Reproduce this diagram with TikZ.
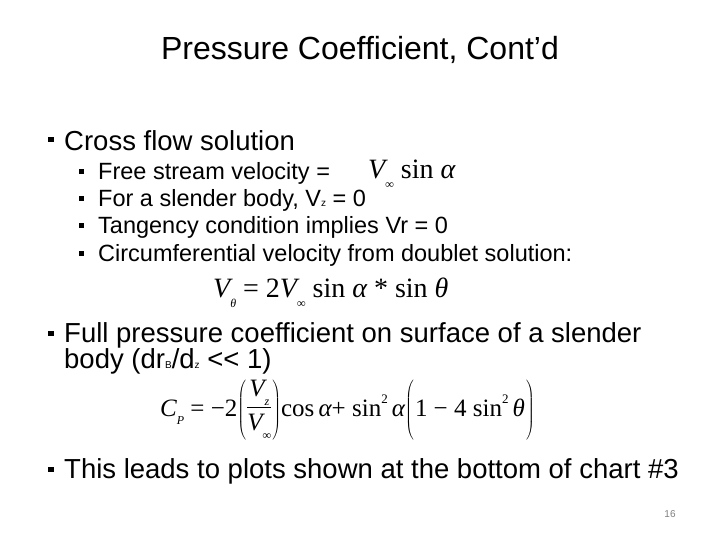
\documentclass[tikz,border=0pt]{standalone}
\usepackage{fontspec}
\setmainfont{Liberation Sans}
\newfontfamily\tms{Liberation Serif}
\newcommand{\bsq}{\rule{0.42em}{0.42em}}
\newcommand{\ti}[1]{{\itshape #1}}
\newcommand{\sbs}[1]{\raisebox{-0.35em}{\fontsize{12}{12}\selectfont\itshape #1}}
\newcommand{\sps}[1]{\raisebox{0.5em}{\fontsize{13}{13}\selectfont #1}}
\newcommand{\frc}{$\displaystyle\frac{\hbox{\ti{V}\sbs{z}}}{\hbox{\ti{V}\sbs{∞}}}$}
\begin{document}
\begin{tikzpicture}[x=1pt,y=-1pt,
  txt/.style={anchor=west,inner sep=0pt,font=\fontsize{23.5}{26}\selectfont},
  big/.style={anchor=west,inner sep=0pt,font=\fontsize{27.5}{30}\selectfont},
  mth/.style={anchor=west,inner sep=0pt,font=\tms\fontsize{28}{30}\selectfont}]
\useasboundingbox[fill=white] (0,0) rectangle (720,540);
\node[inner sep=0pt,font=\fontsize{32}{34}\selectfont] (title) at (360,50) {Pressure Coefficient, Cont’d};
\node[big] (b1m) at (48,141) {\raisebox{0.1em}{\fontsize{13}{13}\selectfont\bsq}};
\node[big] (b1) at (64,141) {Cross flow solution};
\foreach \y/\t [count=\i] in {173/{Free stream velocity =},200/{For a slender body, V{\fontsize{10}{10}\selectfont z} = 0},227/{Tangency condition implies Vr = 0},255/{Circumferential velocity from doublet solution:}}{
  \node[txt] (s\i m) at (79,\y) {\raisebox{0.15em}{\fontsize{11}{11}\selectfont\bsq}};
  \node[txt] (s\i) at (98,\y) {\t};
}
\node[mth] (f1) at (368,174) {\ti{V}\sbs{∞} sin \ti{α}};
\node[mth] (f2) at (213,293) {\ti{V}\sbs{θ} = 2\ti{V}\sbs{∞} sin \ti{α} * sin \ti{θ}};
\node[big] (b2m) at (48,335) {\raisebox{0.1em}{\fontsize{13}{13}\selectfont\bsq}};
\node[big] (b2) at (64,335) {Full pressure coefficient on surface of a slender};
\node[big] (b2b) at (64,361) {body (dr{\fontsize{10}{10}\selectfont B}/d{\fontsize{10}{10}\selectfont z} <{}< 1)};
\node[mth,font=\tms\fontsize{25}{27}\selectfont] (f3) at (160,410) {\ti{C}\sbs{P} = −2$\left(\vcenter{\hbox{\frc}}\right)$cos\,\ti{α}+ sin\sps{2}\,\ti{α}$\left(\vphantom{\vcenter{\hbox{\frc}}}\right.$1 − 4 sin\sps{2}\,\ti{θ}$\left.\vphantom{\vcenter{\hbox{\frc}}}\right)$};
\node[big] (b3m) at (48,471) {\raisebox{0.1em}{\fontsize{13}{13}\selectfont\bsq}};
\node[big] (b3) at (64,471) {This leads to plots shown at the bottom of chart \#3};
\node[inner sep=0pt,font=\fontsize{10}{10}\selectfont,text=gray] (pg) at (670,514) {16};
\end{tikzpicture}
\end{document}
